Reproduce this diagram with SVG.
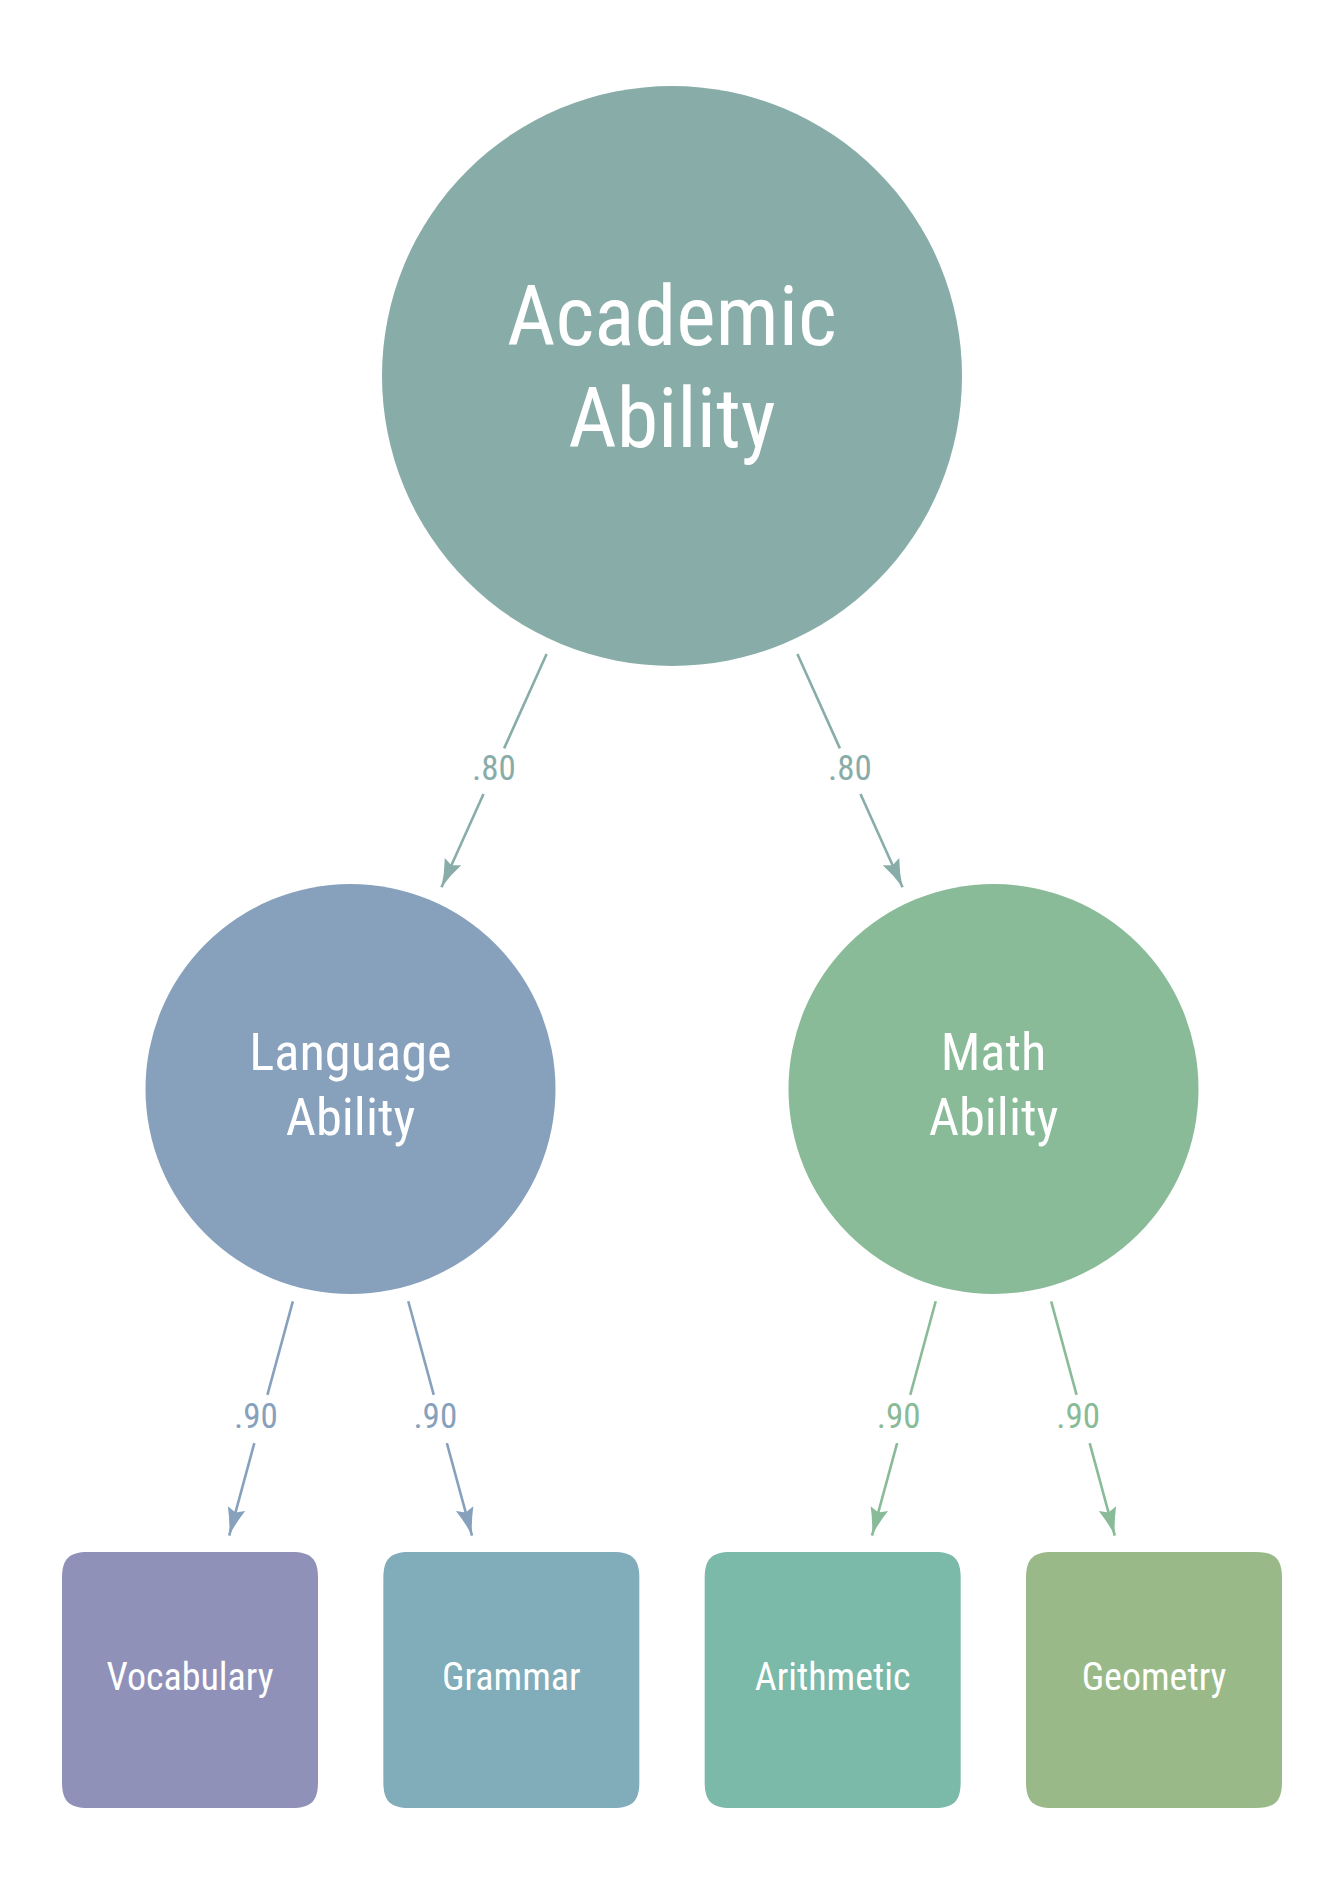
<svg xmlns="http://www.w3.org/2000/svg" xmlns:xlink="http://www.w3.org/1999/xlink" width="1344" height="1895" viewBox="0 0 1344 1895">
  <style>
    text { font-family: "Roboto Condensed", "Roboto", "Liberation Sans", sans-serif; font-stretch: condensed; text-anchor: middle; }
    .node-text { fill: #ffffff; }
    .t-main { font-size: 84px; }
    .t-mid { font-size: 52.5px; }
    .t-box { font-size: 38px; }
    .edge { fill: none; stroke-width: 2.6; }
    .lbl { font-size: 35px; }
    .c-top { stroke: #88ADA9; }
    .c-lang { stroke: #87A1BD; }
    .c-math { stroke: #89BB98; }
  </style>
  <defs>
    <path id="box" d="M26,0 H230 C249,0 256,7 256,26 V230 C256,249 249,256 230,256 H26 C7,256 0,249 0,230 V26 C0,7 7,0 26,0 Z"/>
    <marker id="ah-top" markerUnits="userSpaceOnUse" viewBox="-30 -11 32 22" refX="0" refY="0" markerWidth="32" markerHeight="22" orient="auto">
      <path d="M0,0 Q-14,-3 -28,-9 L-24,0 L-28,9 Q-14,3 0,0 Z" fill="#88ADA9"/>
    </marker>
    <marker id="ah-lang" markerUnits="userSpaceOnUse" viewBox="-30 -11 32 22" refX="0" refY="0" markerWidth="32" markerHeight="22" orient="auto">
      <path d="M0,0 Q-14,-3 -28,-9 L-24,0 L-28,9 Q-14,3 0,0 Z" fill="#87A1BD"/>
    </marker>
    <marker id="ah-math" markerUnits="userSpaceOnUse" viewBox="-30 -11 32 22" refX="0" refY="0" markerWidth="32" markerHeight="22" orient="auto">
      <path d="M0,0 Q-14,-3 -28,-9 L-24,0 L-28,9 Q-14,3 0,0 Z" fill="#89BB98"/>
    </marker>
  </defs>
  <rect width="1344" height="1895" fill="#ffffff"/>

  <g id="connectors">
    <g id="edge-academic-language">
      <line class="edge c-top" x1="546.6" y1="654" x2="504.1" y2="748.4"/>
      <line class="edge c-top" x1="483.5" y1="794" x2="441.5" y2="887.2" marker-end="url(#ah-top)"/>
      <text class="lbl" x="494" y="780" fill="#88ADA9">.80</text>
    </g>
    <g id="edge-academic-math">
      <line class="edge c-top" x1="797.4" y1="654" x2="839.9" y2="748.4"/>
      <line class="edge c-top" x1="860.5" y1="794" x2="902.5" y2="887.2" marker-end="url(#ah-top)"/>
      <text class="lbl" x="850" y="780" fill="#88ADA9">.80</text>
    </g>
    <g id="edge-language-vocabulary">
      <line class="edge c-lang" x1="292.84" y1="1301.31" x2="267.42" y2="1394.92"/>
      <line class="edge c-lang" x1="254.32" y1="1443.17" x2="229.2" y2="1535.6" marker-end="url(#ah-lang)"/>
      <text class="lbl" x="256" y="1428.3" fill="#87A1BD">.90</text>
    </g>
    <g id="edge-language-grammar">
      <line class="edge c-lang" x1="408.27" y1="1301.28" x2="433.74" y2="1394.88"/>
      <line class="edge c-lang" x1="446.87" y1="1443.13" x2="472.0" y2="1535.6" marker-end="url(#ah-lang)"/>
      <text class="lbl" x="435.3" y="1428.3" fill="#87A1BD">.90</text>
    </g>
    <g id="edge-math-arithmetic">
      <line class="edge c-math" x1="935.73" y1="1301.28" x2="910.26" y2="1394.88"/>
      <line class="edge c-math" x1="897.13" y1="1443.13" x2="872.0" y2="1535.6" marker-end="url(#ah-math)"/>
      <text class="lbl" x="898.7" y="1428.3" fill="#89BB98">.90</text>
    </g>
    <g id="edge-math-geometry">
      <line class="edge c-math" x1="1051.16" y1="1301.31" x2="1076.58" y2="1394.92"/>
      <line class="edge c-math" x1="1089.68" y1="1443.17" x2="1114.8" y2="1535.6" marker-end="url(#ah-math)"/>
      <text class="lbl" x="1078.1" y="1428.3" fill="#89BB98">.90</text>
    </g>
  </g>

  <g id="node-academic">
    <circle cx="672" cy="376" r="290" fill="#88ADA9"/>
    <text class="node-text t-main" x="672" y="345">Academic</text>
    <text class="node-text t-main" x="672" y="446.5">Ability</text>
  </g>
  <g id="node-language">
    <circle cx="350.5" cy="1089" r="205" fill="#87A1BD"/>
    <text class="node-text t-mid" x="350.5" y="1070">Language</text>
    <text class="node-text t-mid" x="350.5" y="1135">Ability</text>
  </g>
  <g id="node-math">
    <circle cx="993.5" cy="1089" r="205" fill="#89BB98"/>
    <text class="node-text t-mid" x="993.5" y="1070">Math</text>
    <text class="node-text t-mid" x="993.5" y="1135">Ability</text>
  </g>
  <g id="node-vocabulary" transform="translate(62,1552)">
    <use href="#box" xlink:href="#box" fill="#8F91B9"/>
    <text class="node-text t-box" x="128" y="138">Vocabulary</text>
  </g>
  <g id="node-grammar" transform="translate(383.33,1552)">
    <use href="#box" xlink:href="#box" fill="#80ADB9"/>
    <text class="node-text t-box" x="128" y="138">Grammar</text>
  </g>
  <g id="node-arithmetic" transform="translate(704.67,1552)">
    <use href="#box" xlink:href="#box" fill="#7BB9A8"/>
    <text class="node-text t-box" x="128" y="138">Arithmetic</text>
  </g>
  <g id="node-geometry" transform="translate(1026,1552)">
    <use href="#box" xlink:href="#box" fill="#99BA88"/>
    <text class="node-text t-box" x="128" y="138">Geometry</text>
  </g>
</svg>
